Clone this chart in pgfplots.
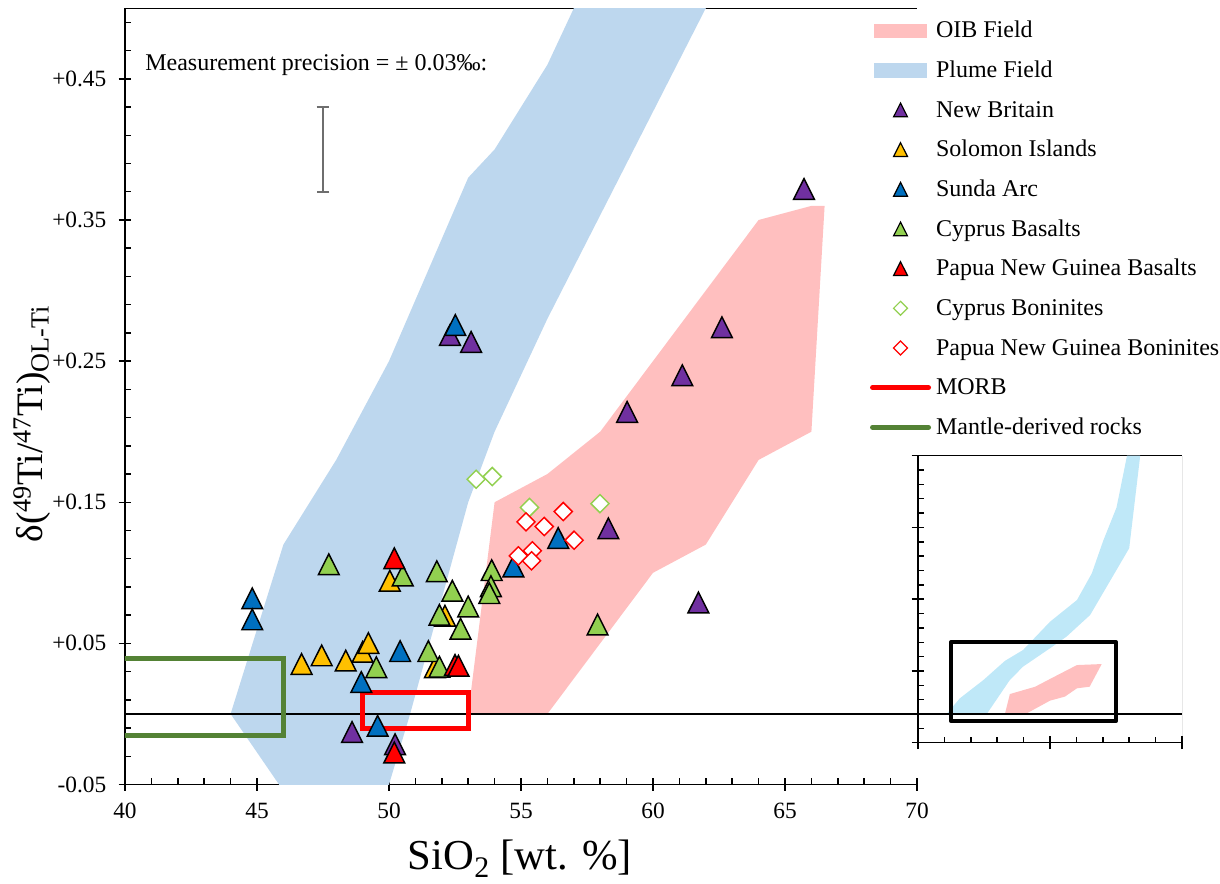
\documentclass[border=0pt]{standalone}
\usepackage{pgfplots}
\pgfplotsset{compat=1.18}
\usepackage{fontspec}
\setmainfont{Liberation Serif}

\definecolor{nbpurple}{HTML}{7030A0}
\definecolor{siyellow}{HTML}{FFC000}
\definecolor{sablue}{HTML}{0070C0}
\definecolor{cygreen}{HTML}{92D050}
\definecolor{pngred}{HTML}{FF0000}
\definecolor{plumeblue}{HTML}{BDD7EE}
\definecolor{oibpink}{HTML}{FFBFBF}
\definecolor{insetblue}{HTML}{BFE8F8}
\definecolor{mantlegreen}{HTML}{548235}
\definecolor{precgray}{HTML}{6E6E6E}

\pgfplotsset{
  tri/.style={only marks, mark=triangle*, mark size=9pt,
    mark options={draw=black, line width=1.1pt, fill=#1, yshift=-2.6pt, yscale=1.15}},
  dia/.style={only marks, mark=square*, mark size=4.8pt,
    mark options={draw=#1, line width=1.1pt, fill=white, rotate=45}},
  excel ticks/.style={
    tick align=inside, major tick length=9.5pt, minor tick length=4.5pt,
    major x tick style={yshift=-4.75pt}, major y tick style={xshift=-4.75pt},
    tick style={black, line width=1.1pt}},
  legfield/.style={legend image code/.code={\fill[#1] (0pt,-4pt) rectangle (39pt,6pt);}},
  legtri/.style={legend image code/.code={\draw[only marks, mark=triangle*, mark size=6pt,
    mark options={draw=black, line width=0.9pt, fill=#1, yshift=-1.7pt, yscale=1.15}]
    plot coordinates {(19.5pt,1pt)};}},
  legdia/.style={legend image code/.code={\draw[only marks, mark=square*, mark size=3.7pt,
    mark options={draw=#1, fill=white, line width=0.9pt, rotate=45}]
    plot coordinates {(19.5pt,1pt)};}},
  legline/.style={legend image code/.code={\draw[#1, line width=3.75pt, line cap=round]
    (-1.5pt,1pt) -- (40.5pt,1pt);}},
}

\begin{document}
\begin{tikzpicture}
\path[use as bounding box] (-93.75pt,-74.625pt) rectangle (821.25pt,588.375pt);

% main diagram: delta 49Ti against SiO2
\begin{axis}[
  at={(0pt,0pt)}, anchor=south west, scale only axis,
  width=594pt, height=582.15pt,
  xmin=40, xmax=70, ymin=-0.05, ymax=0.5,
  axis x line*=box, axis y line*=left,
  xtick pos=left, ytick pos=left,
  axis line style={black, line width=1.1pt},
  xtick={40,45,50,55,60,65,70}, xticklabels={40,45,50,55,60,65,70},
  ytick={-0.05,0.05,0.15,0.25,0.35,0.45},
  yticklabels={-0.05,+0.05,+0.15,+0.25,+0.35,+0.45},
  minor xtick={40,41,...,70},
  minor ytick={-0.03,-0.01,0.01,0.03,0.07,0.09,0.11,0.13,0.17,0.19,0.21,0.23,0.27,0.29,0.31,0.33,0.37,0.39,0.41,0.43,0.47,0.49},
  excel ticks,
  tick label style={font=\fontsize{17.5}{20}\selectfont},
  yticklabel style={xshift=-10.5pt},
  xticklabel style={yshift=-10.5pt},
  xlabel={SiO\textsubscript{2} [wt. \%]},
  ylabel={δ(\textsuperscript{49}Ti/\textsuperscript{47}Ti)\textsubscript{OL-Ti}},
  xlabel style={font=\fontsize{32}{36}\selectfont, inner sep=0pt, at={(axis description cs:0.4987,-0.096)}, anchor=center},
  ylabel style={font=\fontsize{28}{32}\selectfont, inner sep=0pt, at={(axis description cs:-0.1174,0.4644)}, anchor=center},
  legend style={at={(0.9407,0.9841)}, anchor=north west, draw=none, fill=none,
    inner sep=0pt, outer sep=0pt, font=\fontsize{18}{21}\selectfont,
    row sep=12.75pt, column sep=3.75pt,
    nodes={inner sep=0pt, text height=13pt, text depth=4pt}},
  legend cell align=left,
]

% plume field
\addplot[fill=plumeblue, draw=none, forget plot] coordinates {
  (46.2,-0.06) (44,0) (46,0.12) (48,0.18) (50,0.25) (53,0.38) (54,0.40) (56,0.46) (57.25,0.51)
  (62.27,0.51) (56,0.28) (54,0.2) (53,0.15) (50.8,0) (49.84,-0.06)} -- cycle;
% OIB field
\addplot[fill=oibpink, draw=none, forget plot] coordinates {
  (53,0) (54,0.15) (56,0.17) (58,0.2) (64,0.35) (66,0.36) (66.5,0.36) (66,0.2)
  (64,0.18) (62,0.12) (60,0.1) (58,0.05) (56,0)} -- cycle;

\addplot[black, line width=1pt, forget plot] coordinates {(40,0) (70,0)};

% mantle-derived rocks and MORB ranges
\addplot[mantlegreen, line width=3.5pt, forget plot] coordinates {
  (39,0.0394) (46,0.0394) (46,-0.0155) (39,-0.0155)};
\addplot[pngred, line width=3.75pt, forget plot] coordinates {
  (49,-0.0101) (53,-0.0101) (53,0.0154) (49,0.0154)} -- cycle;

% measurement precision
\addplot[forget plot, draw=none, mark=none,
  error bars/.cd, y dir=both, y explicit,
  error bar style={draw=precgray, line width=1.2pt},
  error mark options={draw=precgray, rotate=90, mark size=4.75pt, line width=1.2pt}]
  coordinates {(47.5,0.40) +- (0,0.03)};
\node[anchor=base west, inner sep=0pt, font=\fontsize{18}{21}\selectfont]
  at (axis cs:40.76,0.4559) {Measurement precision = ± 0.03‰:};

% New Britain
\addplot[tri=nbpurple, forget plot] coordinates {
  (65.72,0.372) (62.61,0.274) (61.11,0.240) (59.02,0.214) (52.31,0.2685)
  (53.11,0.2636) (58.31,0.1315) (61.72,0.079) (48.60,-0.0128) (50.23,-0.0215)};
% Solomon Islands
\addplot[tri=siyellow, forget plot] coordinates {
  (46.69,0.0354) (47.45,0.0415) (48.36,0.0378) (49.00,0.0440) (49.22,0.0502)
  (50.03,0.0944) (52.12,0.0696) (51.74,0.0330)};
% Sunda Arc
\addplot[tri=sablue, forget plot] coordinates {
  (44.82,0.0819) (44.82,0.0670) (50.42,0.0445) (48.95,0.0226) (49.57,-0.0084)
  (52.51,0.2756) (56.41,0.1247) (54.71,0.1045)};
% Cyprus basalts
\addplot[tri=cygreen, forget plot] coordinates {
  (47.72,0.1060) (50.52,0.0981) (51.81,0.1011) (52.40,0.0873) (53.89,0.1019)
  (53.86,0.0905) (53.80,0.0856) (51.91,0.0702) (53.00,0.0761) (52.71,0.0604)
  (51.49,0.0445) (49.52,0.0331) (51.91,0.0334) (57.90,0.0634)};
% Papua New Guinea basalts
\addplot[tri=pngred, forget plot] coordinates {
  (50.20,0.1103) (52.50,0.0347) (52.63,0.0342) (50.20,-0.0273)};
% Cyprus boninites
\addplot[dia=cygreen, forget plot] coordinates {
  (53.30,0.1663) (53.91,0.1682) (55.32,0.1463) (57.99,0.1490)};
% Papua New Guinea boninites
\addplot[dia=pngred, forget plot] coordinates {
  (56.60,0.1434) (55.19,0.1361) (55.88,0.1328) (57.01,0.1231)
  (54.90,0.1120) (55.43,0.1156) (55.40,0.1085)};

\addlegendimage{legfield=oibpink}\addlegendentry{OIB Field}
\addlegendimage{legfield=plumeblue}\addlegendentry{Plume Field}
\addlegendimage{legtri=nbpurple}\addlegendentry{New Britain}
\addlegendimage{legtri=siyellow}\addlegendentry{Solomon Islands}
\addlegendimage{legtri=sablue}\addlegendentry{Sunda Arc}
\addlegendimage{legtri=cygreen}\addlegendentry{Cyprus Basalts}
\addlegendimage{legtri=pngred}\addlegendentry{Papua New Guinea Basalts}
\addlegendimage{legdia=cygreen}\addlegendentry{Cyprus Boninites}
\addlegendimage{legdia=pngred}\addlegendentry{Papua New Guinea Boninites}
\addlegendimage{legline=pngred}\addlegendentry{MORB}
\addlegendimage{legline=mantlegreen}\addlegendentry{Mantle-derived rocks}
\end{axis}

% overview inset
\begin{axis}[
  at={(594.75pt,31.35pt)}, anchor=south west, scale only axis,
  width=198pt, height=215.25pt,
  xmin=34, xmax=82, ymin=-0.2, ymax=1.8,
  axis x line*=box, axis y line*=left,
  xtick pos=left, ytick pos=left,
  axis line style={black, line width=1.1pt},
  xtick={34,58,82}, ytick={-0.2,0.3,0.8,1.3,1.8},
  minor xtick={34,38.8,...,82}, minor ytick={-0.2,-0.1,...,1.8},
  xticklabels={}, yticklabels={},
  excel ticks,
]
\addplot[fill=insetblue, draw=none] coordinates {
  (39.2,0) (41.6,0.109) (45.9,0.237) (49.8,0.37) (53.1,0.446) (58.0,0.643)
  (62.9,0.794) (65.6,0.98) (67.7,1.21) (70.1,1.44) (72.0,1.8) (74.4,1.8)
  (72.4,1.155) (65.3,0.69) (61.0,0.539) (58.0,0.458) (53.1,0.33) (50.7,0.237) (46.5,0)} -- cycle;
\addplot[fill=oibpink, draw=none] coordinates {
  (49.8,0) (50.7,0.139) (55.3,0.19) (58.6,0.256) (62.9,0.341) (67.4,0.348)
  (65.2,0.19) (62.9,0.179) (60.7,0.121) (58.0,0.093) (53.8,0.005)} -- cycle;
\addplot[black, line width=1pt] coordinates {(34,0) (82,0)};
\addplot[black, line width=3pt, line join=round] coordinates {
  (40,-0.05) (70,-0.05) (70,0.5) (40,0.5)} -- cycle;
\draw[black!75, line width=0.6pt] (rel axis cs:1,0) -- (rel axis cs:1,1);
\draw[black!60, line width=0.6pt] (rel axis cs:0,0) -- ++(0pt,-19pt);
\draw[black!60, line width=0.6pt] (rel axis cs:1,0) -- ++(0pt,-4.5pt);
\end{axis}
\end{tikzpicture}
\end{document}
